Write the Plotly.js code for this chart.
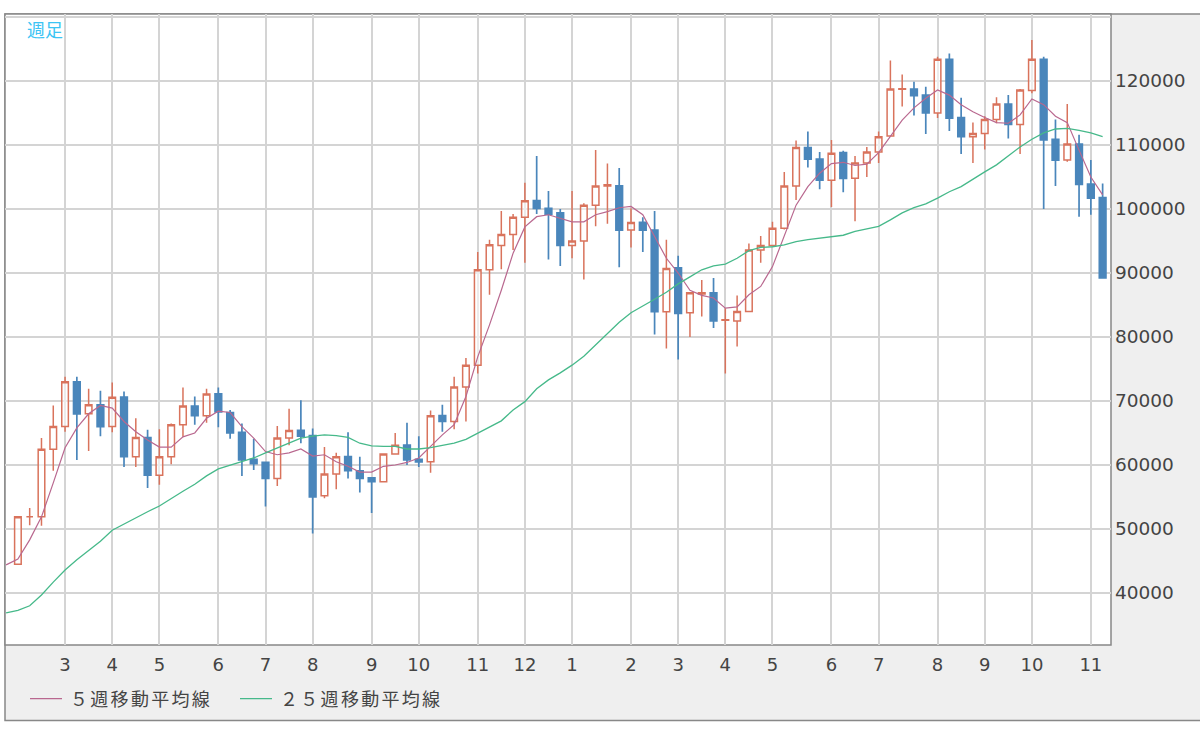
<!DOCTYPE html>
<html><head><meta charset="utf-8">
<script src="https://cdn.plot.ly/plotly-3.0.1.min.js"></script>
<style>html,body{margin:0;padding:0;background:#fff}#c{width:1200px;height:730px}.legendtext{letter-spacing:2.3px;transform:translateX(3px)}</style>
</head><body><div id="c"></div>
<script>
const open_ = [44500,51900,51900,62450,66000,73000,68000,69400,66000,70600,61300,64300,58400,61300,66300,69200,67700,71100,68200,65100,60900,60400,57900,64200,65400,64600,55200,58600,61300,59100,58000,57400,61700,63100,60900,60500,67700,66800,72200,75600,90500,94300,96000,98700,101300,100100,99400,94300,95000,100600,103600,103600,96700,97900,96700,83950,90800,83800,86700,86900,82600,82500,84000,93600,94300,97000,103600,109600,107800,104500,108800,104800,107200,108900,111400,118700,118750,117800,115000,123400,114300,111300,111800,114000,116400,113200,118500,123400,110900,107650,110150,103900,101800];
const close_ = [51900,51900,62450,66000,73000,68000,69400,66000,70600,61300,64300,58400,61300,66300,69200,67700,71100,68300,65000,60800,60200,57900,64200,65400,64500,55000,58600,61300,59100,57900,57400,61700,63100,60800,60500,67700,66800,72200,75600,90500,94400,96000,98700,101300,100100,99200,94300,95000,100600,103600,103800,96700,97900,96700,83950,90700,83700,86900,86900,82500,82700,84000,93600,94300,97000,103600,109600,107800,104500,108700,104800,107200,108900,111300,118750,118800,117700,115000,123400,114200,111300,111800,114000,116400,113200,118600,123400,110800,107650,110150,103850,101700,89250];
const high_ = [51900,53300,64200,69300,73800,73800,71900,71600,72900,71500,67300,65500,65600,66500,72100,70700,71900,72100,68600,66500,64100,60500,66100,68800,70100,65700,62800,61900,65100,61300,58100,61700,65000,66600,64500,68500,69400,73800,76700,93300,95200,99700,99200,104100,108300,102800,100000,102800,100900,109200,107100,106400,100100,98700,99700,95200,92700,87000,88900,89200,84500,86500,94600,95800,98000,105800,110700,112100,108900,110800,109100,108300,109700,112100,123200,121000,119900,119100,123800,124300,117400,113500,114500,117450,117800,118750,126400,123800,114000,116400,111600,107650,104000];
const low_ = [44500,50600,50500,59100,65200,60800,62200,64500,65100,59700,59700,56400,56900,60100,64400,66300,66600,65900,64100,58300,59200,53500,56700,63100,63400,49300,54800,56200,57900,55700,52500,57400,61600,60000,59700,58800,65200,65600,66800,74300,86600,90600,93600,91600,99200,92100,91100,92300,89000,97300,97700,90900,94000,93300,80400,78200,76500,80000,83200,81400,74300,78500,83900,91600,94200,96800,101400,106500,103100,100300,102600,98100,105000,107200,111400,116000,114600,111700,114200,112200,108600,107200,109300,113400,111000,108600,118100,100000,103600,107400,98800,99100,89250];
// the moving-average readings start one week before the first candle
const ma5 = [44400,45300,48300,51900,57200,62700,65800,68000,69300,68900,66800,65200,63900,62800,62800,64400,65000,67300,68400,68200,66000,64200,62100,61600,61900,62500,61400,61600,60500,59800,58900,58900,59800,60000,60400,61100,62900,64700,66300,70700,76900,81900,87300,93100,97200,98800,99100,98600,98000,98000,99100,99600,100200,100400,99100,95700,92300,90000,87300,86500,86100,84500,84700,86600,87900,91000,95700,100600,103500,105600,107100,107300,106800,107000,108800,111300,113900,115800,117300,118600,117800,116300,115200,114300,113500,113400,114700,117200,116300,114500,113500,109200,105000,102200];
const ma25 = [36900,37300,38000,39700,41700,43600,45200,46600,48100,49800,50800,51700,52700,53600,54800,55900,57000,58300,59400,60000,60500,61100,61900,62700,63400,64200,64500,64700,64600,64300,63400,63000,62900,62900,62500,62500,62700,63100,63400,64000,65000,66000,66900,68600,69900,71900,73300,74400,75600,77000,78800,80600,82300,83800,84800,85900,87000,88300,89400,90500,91100,91400,92300,93500,94000,94100,94400,94900,95200,95400,95600,95900,96500,96900,97300,98300,99400,100200,100800,101700,102700,103500,104700,105800,106900,108300,109700,110900,111900,112500,112600,112300,111900,111300];
const monthTickWeeks = [4,8,12,17,21,25,30,34,39,43,47,52,56,60,64,69,73,78,82,86,91];
const monthLabels = ['3','4','5','6','7','8','9','10','11','12','1','2','3','4','5','6','7','8','9','10','11'];
const priceTicks = [40000,50000,60000,70000,80000,90000,100000,110000,120000,130000];
const priceLabels = ['40000','50000','60000','70000','80000','90000','100000','110000','120000',''];
const ma5Name = '５週移動平均線';
const ma25Name = '２５週移動平均線';
const periodLabel = '週足';

const weeks = close_.map((_, i) => i);
const maWeeks = ma5.map((_, i) => i - 1);
const RED = '#d9735c', BLUE = '#4a86bb';
const traces = [
  {type:'candlestick', x:weeks, open:open_, high:high_, low:low_, close:close_, showlegend:false, hoverinfo:'skip', whiskerwidth:0,
   increasing:{line:{color:RED,width:1.5},fillcolor:'rgba(255,255,255,0.55)'},
   decreasing:{line:{color:BLUE,width:1.7},fillcolor:BLUE}},
  {type:'scatter', mode:'lines', x:maWeeks, y:ma5, name:ma5Name, line:{color:'#b9688f',width:1.2}},
  {type:'scatter', mode:'lines', x:maWeeks, y:ma25, name:ma25Name, line:{color:'#46b98a',width:1.3}}
];
const W=1200,H=730,L=5,R=1111,T=14,B=645;
const px = v => (v-L)/(R-L), py = v => (B-v)/(B-T);
const layout = {
  width:W, height:H, margin:{l:L,r:W-R,t:T,b:H-B,pad:0}, autosize:false, boxgap:0.2,
  paper_bgcolor:'#fff', plot_bgcolor:'rgba(0,0,0,0)',
  font:{family:'"DejaVu Sans",sans-serif',color:'#444',size:15},
  xaxis:{range:[-1.094,92.71],tickmode:'array',tickvals:monthTickWeeks,ticktext:monthLabels,showgrid:true,gridcolor:'#d4d4d4',gridwidth:2,zeroline:false,ticks:'',showline:false,rangeslider:{visible:false},tickfont:{size:18,family:'"DejaVu Sans",sans-serif',color:'#444'},ticklabelstandoff:7,fixedrange:true},
  yaxis:{range:[31875,130469],side:'right',tickmode:'array',tickvals:priceTicks,ticktext:priceLabels,showgrid:true,gridcolor:'#d4d4d4',gridwidth:2,zeroline:false,ticks:'',showline:false,tickfont:{size:18.5,family:'"DejaVu Sans",sans-serif',color:'#444'},ticklabelstandoff:3,fixedrange:true},
  legend:{orientation:'h',x:px(25),y:py(699),xanchor:'left',yanchor:'middle',font:{size:18,family:'"Noto Sans CJK JP",sans-serif',color:'#444'},bgcolor:'rgba(0,0,0,0)',itemwidth:32,entrywidth:163,entrywidthmode:'pixels',traceorder:'normal'},
  annotations:[{xref:'paper',yref:'paper',x:px(25),y:py(29),xanchor:'left',yanchor:'middle',text:periodLabel,showarrow:false,font:{size:18,color:'#3cc4f4',family:'"Noto Sans CJK JP",sans-serif'}}],
  shapes:[
    {type:'rect',xref:'paper',yref:'paper',x0:px(5),x1:px(1210),y0:py(14),y1:py(720.5),fillcolor:'#efefef',line:{color:'#888',width:1.5},layer:'below'},
    {type:'rect',xref:'paper',yref:'paper',x0:px(5),x1:px(1111),y0:py(14),y1:py(645),fillcolor:'#fff',line:{color:'#888',width:1.5},layer:'below'}
  ]
};
Plotly.newPlot('c',traces,layout,{displayModeBar:false,staticPlot:true});
</script></body></html>
